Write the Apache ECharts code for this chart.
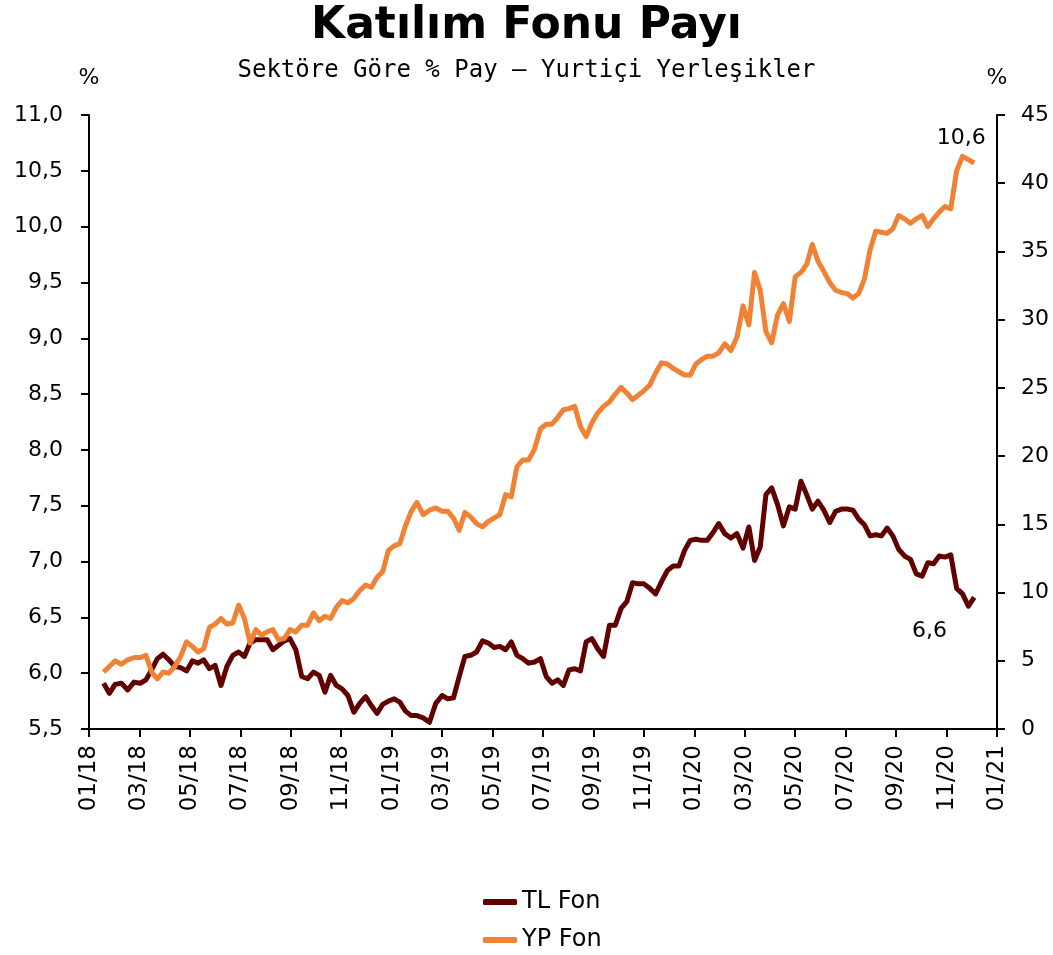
<!DOCTYPE html>
<html lang="tr">

<head>
  <meta charset="UTF-8">
  <title>Katılım Fonu Payı</title>
  <style>
    html, body {
      margin: 0;
      padding: 0;
      background-color: #fff;
    }

    #chart {
      width: 1053px;
      height: 955px;
    }
  </style>
</head>

<body>
  <div id="chart"></div>
  <script src="https://cdn.jsdelivr.net/npm/echarts@6/dist/echarts.min.js"></script>
  <script>
    // haftalık veri (Cuma)
    const dates = [
      '2018-01-19', '2018-01-26', '2018-02-02', '2018-02-09', '2018-02-16', '2018-02-23', '2018-03-02', '2018-03-09', '2018-03-16', '2018-03-23',
      '2018-03-30', '2018-04-06', '2018-04-13', '2018-04-20', '2018-04-27', '2018-05-04', '2018-05-11', '2018-05-18', '2018-05-25', '2018-06-01',
      '2018-06-08', '2018-06-15', '2018-06-22', '2018-06-29', '2018-07-06', '2018-07-13', '2018-07-20', '2018-07-27', '2018-08-03', '2018-08-10',
      '2018-08-17', '2018-08-24', '2018-08-31', '2018-09-07', '2018-09-14', '2018-09-21', '2018-09-28', '2018-10-05', '2018-10-12', '2018-10-19',
      '2018-10-26', '2018-11-02', '2018-11-09', '2018-11-16', '2018-11-23', '2018-11-30', '2018-12-07', '2018-12-14', '2018-12-21', '2018-12-28',
      '2019-01-04', '2019-01-11', '2019-01-18', '2019-01-25', '2019-02-01', '2019-02-08', '2019-02-15', '2019-02-22', '2019-03-01', '2019-03-08',
      '2019-03-15', '2019-03-22', '2019-03-29', '2019-04-05', '2019-04-12', '2019-04-19', '2019-04-26', '2019-05-03', '2019-05-10', '2019-05-17',
      '2019-05-24', '2019-05-31', '2019-06-07', '2019-06-14', '2019-06-21', '2019-06-28', '2019-07-05', '2019-07-12', '2019-07-19', '2019-07-26',
      '2019-08-02', '2019-08-09', '2019-08-16', '2019-08-23', '2019-08-30', '2019-09-06', '2019-09-13', '2019-09-20', '2019-09-27', '2019-10-04',
      '2019-10-11', '2019-10-18', '2019-10-25', '2019-11-01', '2019-11-08', '2019-11-15', '2019-11-22', '2019-11-29', '2019-12-06', '2019-12-13',
      '2019-12-20', '2019-12-27', '2020-01-03', '2020-01-10', '2020-01-17', '2020-01-24', '2020-01-31', '2020-02-07', '2020-02-14', '2020-02-21',
      '2020-02-28', '2020-03-06', '2020-03-13', '2020-03-20', '2020-03-27', '2020-04-03', '2020-04-10', '2020-04-17', '2020-04-24', '2020-05-01',
      '2020-05-08', '2020-05-15', '2020-05-22', '2020-05-29', '2020-06-05', '2020-06-12', '2020-06-19', '2020-06-26', '2020-07-03', '2020-07-10',
      '2020-07-17', '2020-07-24', '2020-07-31', '2020-08-07', '2020-08-14', '2020-08-21', '2020-08-28', '2020-09-04', '2020-09-11', '2020-09-18',
      '2020-09-25', '2020-10-02', '2020-10-09', '2020-10-16', '2020-10-23', '2020-10-30', '2020-11-06', '2020-11-13', '2020-11-20', '2020-11-27',
      '2020-12-04'
    ]

    const tlFon = [
      5.91, 5.82, 5.90, 5.91, 5.85, 5.92, 5.91, 5.94, 6.03, 6.13,
      6.17, 6.12, 6.06, 6.05, 6.02, 6.11, 6.09, 6.12, 6.04, 6.07,
      5.89, 6.06, 6.16, 6.19, 6.15, 6.27, 6.30, 6.30, 6.30, 6.21,
      6.25, 6.29, 6.31, 6.21, 5.97, 5.95, 6.01, 5.98, 5.83, 5.98,
      5.89, 5.86, 5.80, 5.65, 5.73, 5.79, 5.71, 5.64, 5.72, 5.75,
      5.77, 5.74, 5.66, 5.62, 5.62, 5.60, 5.56, 5.73, 5.80, 5.77,
      5.78, 5.97, 6.15, 6.16, 6.19, 6.29, 6.27, 6.23, 6.24, 6.21,
      6.28, 6.16, 6.13, 6.09, 6.10, 6.13, 5.97, 5.91, 5.94, 5.89,
      6.03, 6.04, 6.02, 6.28, 6.31, 6.22, 6.15, 6.43, 6.43, 6.58,
      6.64, 6.81, 6.80, 6.80, 6.76, 6.71, 6.82, 6.92, 6.96, 6.96,
      7.10, 7.19, 7.20, 7.19, 7.19, 7.26, 7.34, 7.25, 7.21, 7.25,
      7.12, 7.31, 7.01, 7.13, 7.60, 7.66, 7.51, 7.32, 7.49, 7.47,
      7.72, 7.60, 7.47, 7.54, 7.46, 7.35, 7.45, 7.47, 7.47, 7.46,
      7.38, 7.33, 7.23, 7.24, 7.23, 7.30, 7.23, 7.11, 7.05, 7.02,
      6.89, 6.87, 6.99, 6.98, 7.05, 7.04, 7.06, 6.76, 6.71, 6.60,
      6.68
    ]

    const ypFon = [
      6.01, 6.06, 6.11, 6.08, 6.12, 6.14, 6.14, 6.16, 6.01, 5.95,
      6.01, 6.00, 6.06, 6.15, 6.28, 6.24, 6.19, 6.22, 6.41, 6.44,
      6.49, 6.44, 6.45, 6.61, 6.49, 6.27, 6.39, 6.34, 6.37, 6.39,
      6.30, 6.31, 6.39, 6.37, 6.43, 6.43, 6.54, 6.47, 6.51, 6.49,
      6.59, 6.65, 6.63, 6.67, 6.74, 6.79, 6.77, 6.86, 6.91, 7.10,
      7.14, 7.16, 7.32, 7.45, 7.53, 7.42, 7.46, 7.48, 7.45, 7.45,
      7.39, 7.28, 7.44, 7.40, 7.34, 7.31, 7.36, 7.39, 7.42, 7.60,
      7.58, 7.85, 7.91, 7.91, 8.01, 8.19, 8.23, 8.23, 8.29, 8.36,
      8.37, 8.39, 8.21, 8.12, 8.24, 8.33, 8.39, 8.43, 8.50, 8.56,
      8.51, 8.45, 8.49, 8.53, 8.58, 8.69, 8.78, 8.77, 8.73, 8.70,
      8.67, 8.67, 8.77, 8.81, 8.84, 8.84, 8.87, 8.95, 8.89, 9.01,
      9.29, 9.12, 9.59, 9.43, 9.06, 8.96, 9.21, 9.31, 9.15, 9.55,
      9.59, 9.66, 9.84, 9.69, 9.60, 9.50, 9.43, 9.41, 9.40, 9.36,
      9.40, 9.53, 9.79, 9.96, 9.95, 9.94, 9.98, 10.10, 10.07, 10.03,
      10.07, 10.10, 10.00, 10.07, 10.13, 10.18, 10.16, 10.50, 10.63, 10.60,
      10.57
    ]

    const xTickLabels = ['01/18', '03/18', '05/18', '07/18', '09/18', '11/18',
      '01/19', '03/19', '05/19', '07/19', '09/19', '11/19',
      '01/20', '03/20', '05/20', '07/20', '09/20', '11/20', '01/21']

    const FONT = 'DejaVu Sans'
    const TL_COLOR = '#620000'
    const YP_COLOR = '#F08236'

    // tarih -> 2018 Ocak'tan itibaren ay (kesirli)
    const monthPos = (s) => {
      const [y, m, d] = s.split('-').map(Number)
      const dim = new Date(Date.UTC(y, m, 0)).getUTCDate()
      return (y - 2018) * 12 + (m - 1) + (d - 1) / dim
    }
    const fmt = (v) => Number(v).toFixed(1).replace('.', ',')

    const tlData = dates.map((d, i) => [monthPos(d), tlFon[i]])
    const ypData = dates.map((d, i) => [monthPos(d), ypFon[i]])

    const labelPoint = (pt, offset) => ({
      symbol: 'circle',
      symbolSize: 1,
      itemStyle: { color: 'rgba(0,0,0,0)' },
      label: {
        show: true,
        position: 'inside',
        offset: offset,
        color: '#000',
        fontSize: 22,
        fontFamily: FONT,
        formatter: (p) => fmt(p.value)
      },
      data: [{ coord: pt, value: pt[1] }]
    })

    const axisCommon = {
      axisLine: { show: true, lineStyle: { color: '#000', width: 2 } },
      axisTick: { show: true, length: 8, lineStyle: { color: '#000', width: 2 } },
      splitLine: { show: false },
      axisLabel: { color: '#000', fontSize: 22, fontFamily: FONT }
    }

    const option = {
      backgroundColor: '#fff',
      animation: false,
      title: [
        {
          text: 'Katılım Fonu Payı',
          left: 'center',
          top: 0,
          textStyle: { fontSize: 44, fontWeight: 'bold', fontFamily: FONT, color: '#000' }
        },
        {
          text: 'Sektöre Göre % Pay – Yurtiçi Yerleşikler',
          left: 'center',
          top: 54,
          textStyle: { fontSize: 24, fontWeight: 'normal', fontFamily: 'DejaVu Sans Mono', color: '#000' }
        }
      ],
      legend: {
        orient: 'vertical',
        left: 483,
        top: 889,
        padding: 0,
        icon: 'roundRect',
        itemWidth: 34,
        itemHeight: 6,
        itemGap: 12,
        textStyle: { fontSize: 24, fontFamily: FONT, color: '#000', lineHeight: 26 },
        data: ['TL Fon', 'YP Fon']
      },
      grid: {
        left: 89,
        right: 56,
        top: 115,
        bottom: 226
      },
      xAxis: {
        ...axisCommon,
        type: 'value',
        min: 0,
        max: 36,
        interval: 2,
        axisLabel: {
          ...axisCommon.axisLabel,
          fontSize: 23,
          rotate: 90,
          margin: 16,
          formatter: (v) => xTickLabels[Math.round(v / 2)]
        }
      },
      yAxis: [
        {
          ...axisCommon,
          type: 'value',
          position: 'left',
          min: 5.5,
          max: 11,
          interval: 0.5,
          name: '%',
          nameGap: 26,
          nameTextStyle: { color: '#000', fontSize: 22, fontFamily: FONT },
          axisLabel: { ...axisCommon.axisLabel, margin: 26, formatter: fmt }
        },
        {
          ...axisCommon,
          type: 'value',
          position: 'right',
          min: 0,
          max: 45,
          interval: 5,
          name: '%',
          nameGap: 26,
          nameTextStyle: { color: '#000', fontSize: 22, fontFamily: FONT },
          axisLabel: { ...axisCommon.axisLabel, margin: 24 }
        }
      ],
      series: [
        {
          name: 'TL Fon',
          type: 'line',
          yAxisIndex: 0,
          showSymbol: false,
          symbol: 'none',
          color: TL_COLOR,
          lineStyle: { color: TL_COLOR, width: 5, join: 'round' },
          data: tlData,
          markPoint: labelPoint(tlData[149], [-39, 25])
        },
        {
          name: 'YP Fon',
          type: 'line',
          yAxisIndex: 0,
          showSymbol: false,
          symbol: 'none',
          color: YP_COLOR,
          lineStyle: { color: YP_COLOR, width: 5, join: 'round' },
          data: ypData,
          markPoint: labelPoint(ypData[ypData.length - 1], [-13, -25])
        }
      ]
    }

    const myChart = echarts.init(document.getElementById('chart'))
    myChart.setOption(option)
  </script>
</body>

</html>
